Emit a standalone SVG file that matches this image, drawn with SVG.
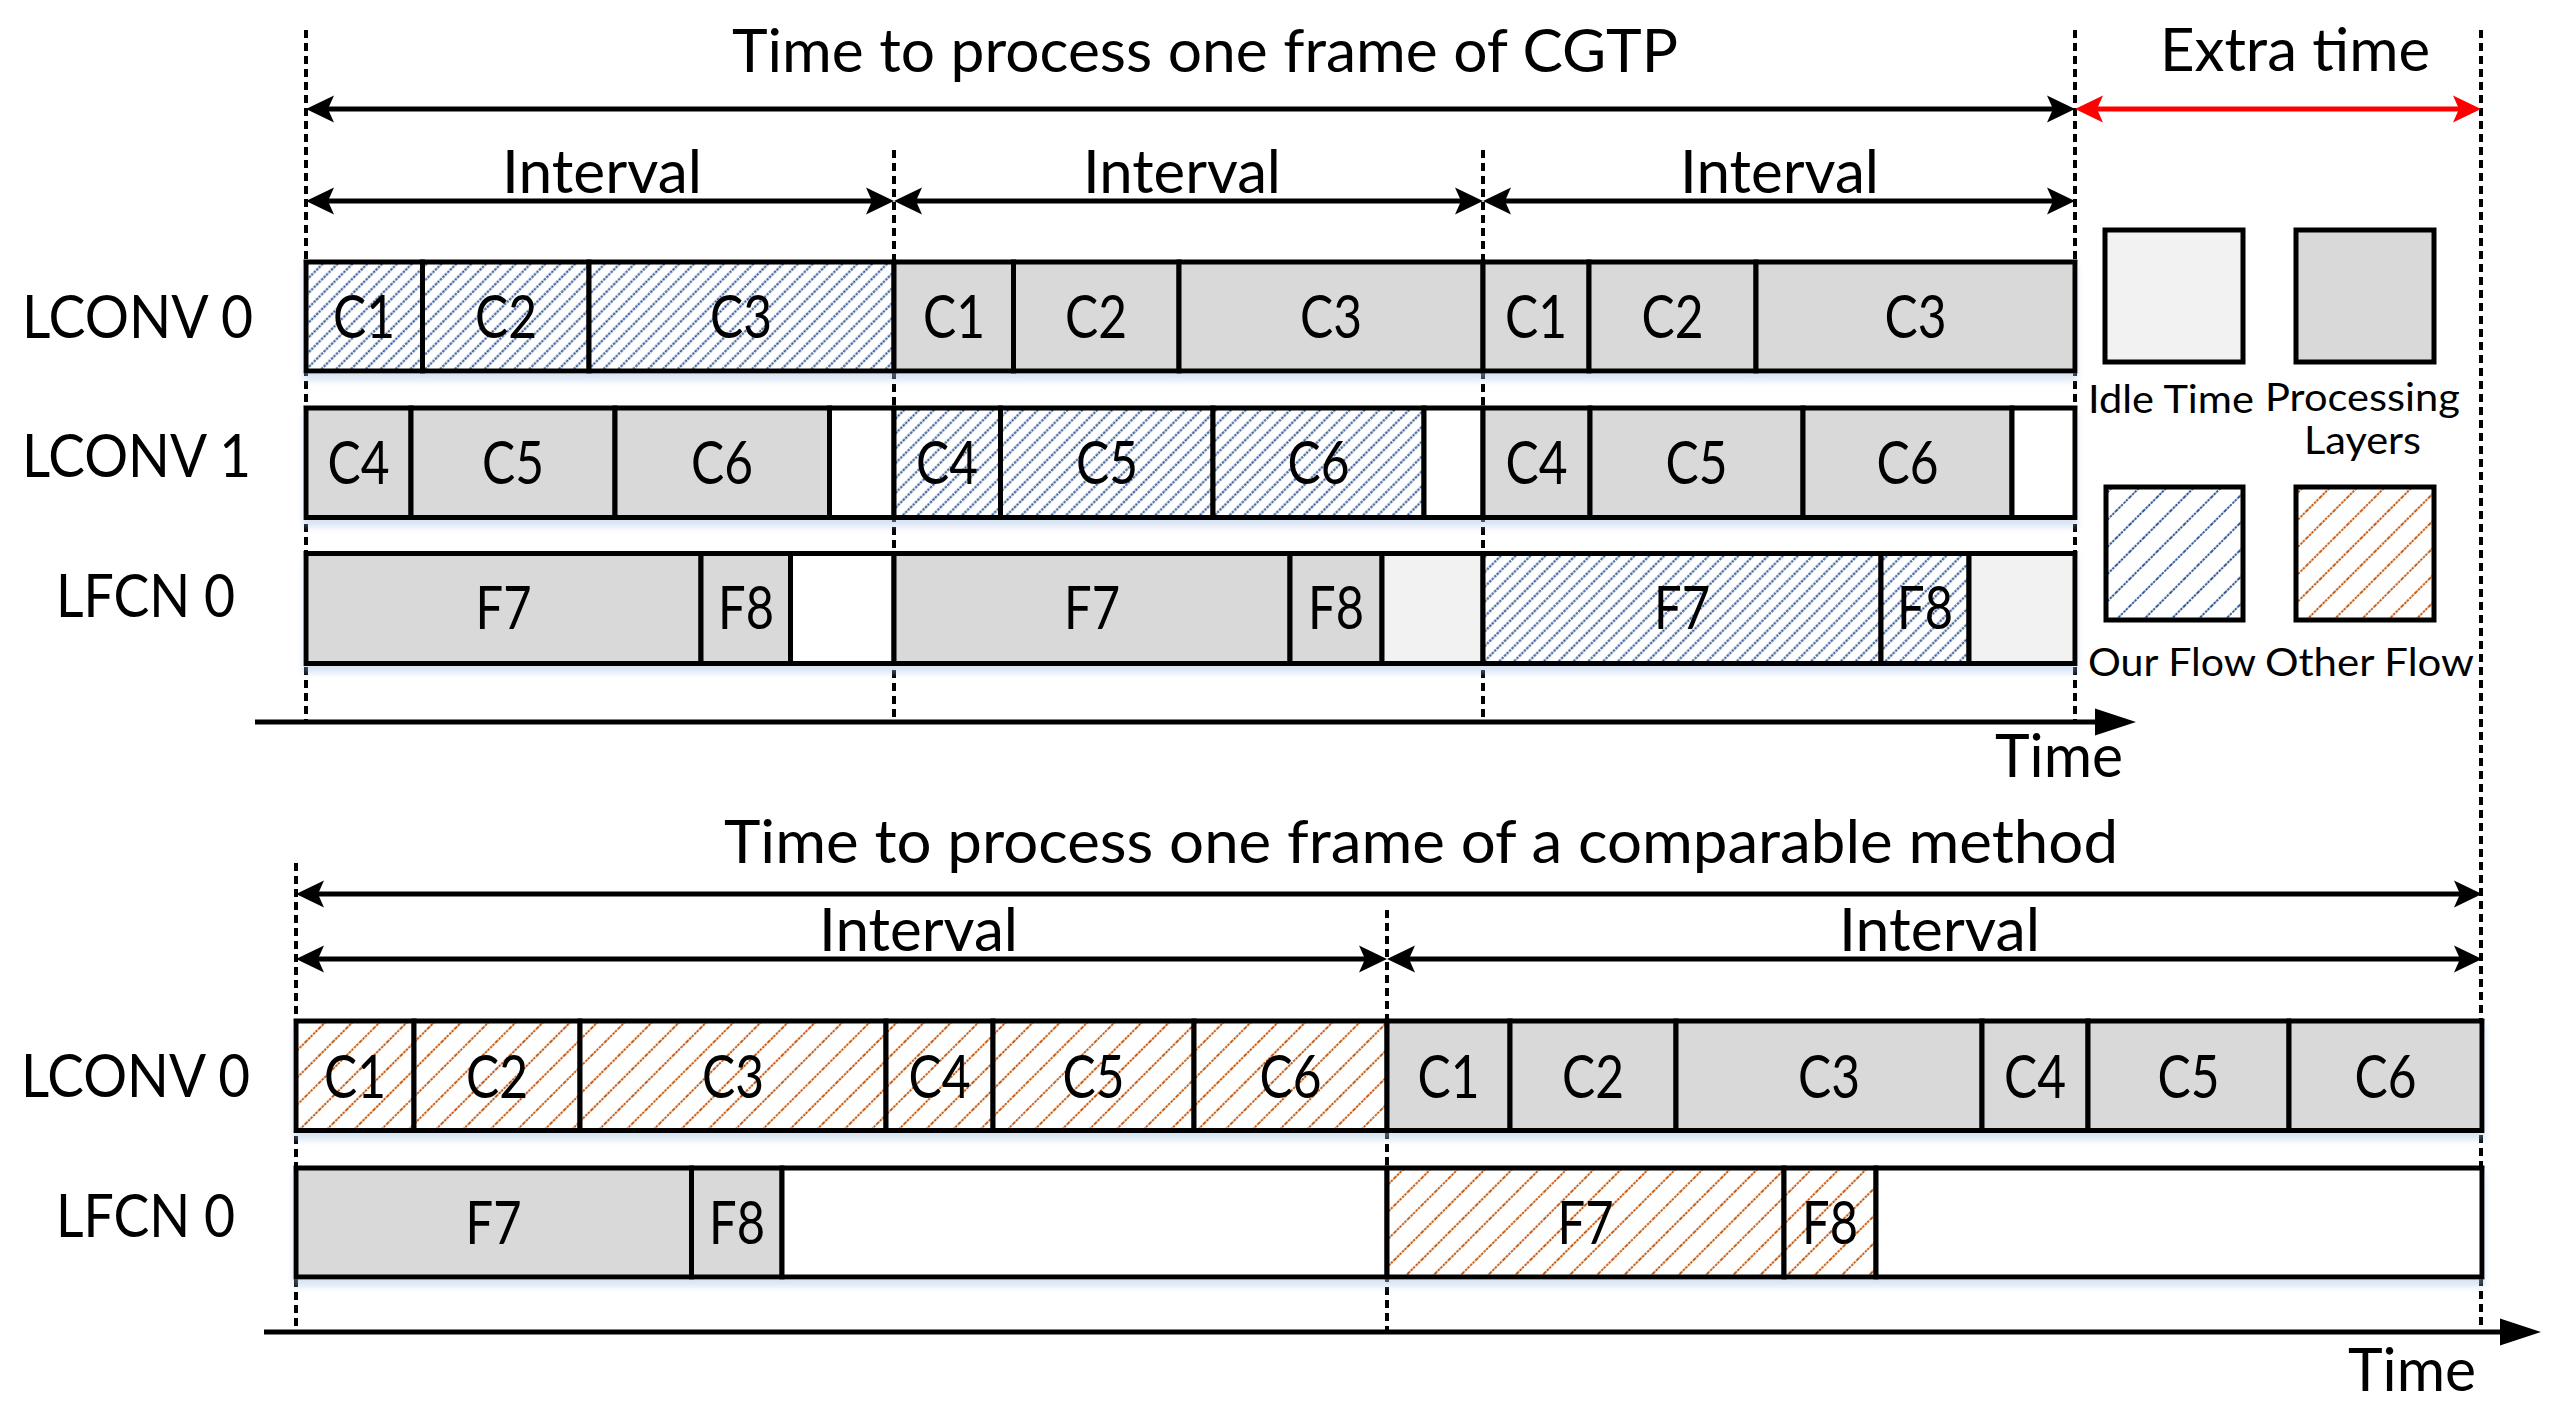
<svg xmlns="http://www.w3.org/2000/svg" width="2564" height="1414" viewBox="0 0 2564 1414">
<defs>
<style>
.t{font-family:Lato,"Open Sans","Liberation Sans",sans-serif;font-size:60px;fill:#000}
.c{text-anchor:middle}
.lg{font-size:39px}
.cell{stroke:#000;stroke-width:5}
.g{fill:#d9d9d9}.i{fill:#f2f2f2}.w{fill:#fff}.b{fill:url(#hb)}.o{fill:url(#ho)}.bl{fill:url(#hbl)}.ol{fill:url(#hol)}
.dash{stroke:#000;stroke-width:4;stroke-dasharray:8 5;fill:none}
.arr{stroke:#000;stroke-width:5;fill:none;marker-start:url(#ah);marker-end:url(#ah)}
.rarr{stroke:#f00;stroke-width:5;fill:none;marker-start:url(#ahr);marker-end:url(#ahr)}
.axis{stroke:#000;stroke-width:5;fill:none;marker-end:url(#ax)}
</style>
<marker id="ah" markerUnits="userSpaceOnUse" viewBox="-35 -16 50 32" refX="0" refY="0" markerWidth="50" markerHeight="32" orient="auto-start-reverse" overflow="visible">
<path d="M8,0 L-20,-13.5 L-14,0 L-20,13.5 Z" fill="#000"/>
</marker>
<marker id="ahr" markerUnits="userSpaceOnUse" viewBox="-35 -16 50 32" refX="0" refY="0" markerWidth="50" markerHeight="32" orient="auto-start-reverse" overflow="visible">
<path d="M8,0 L-20,-13.5 L-14,0 L-20,13.5 Z" fill="#f00"/>
</marker>
<marker id="ax" markerUnits="userSpaceOnUse" viewBox="-35 -16 50 32" refX="0" refY="0" markerWidth="50" markerHeight="32" orient="auto" overflow="visible">
<path d="M10,0 L-31,-13.5 L-31,13.5 Z" fill="#000"/>
</marker>
<pattern id="hb" patternUnits="userSpaceOnUse" width="10.5" height="10.5" patternTransform="rotate(45)">
<rect width="10.5" height="10.5" fill="#fff"/><line x1="5.25" y1="0" x2="5.25" y2="10.5" stroke="#2f5597" stroke-width="2" stroke-dasharray="2.5 1"/>
</pattern>
<pattern id="hbl" patternUnits="userSpaceOnUse" width="19.25" height="19.25" patternTransform="rotate(45)">
<rect width="19.25" height="19.25" fill="#fff"/><line x1="9.6" y1="0" x2="9.6" y2="19.25" stroke="#2f5597" stroke-width="2" stroke-dasharray="2.5 1"/>
</pattern>
<pattern id="ho" patternUnits="userSpaceOnUse" width="19.25" height="19.25" patternTransform="rotate(45)">
<rect width="19.25" height="19.25" fill="#fff"/><line x1="9.6" y1="0" x2="9.6" y2="19.25" stroke="#c55a11" stroke-width="2" stroke-dasharray="2.5 1"/>
</pattern>
<pattern id="hol" patternUnits="userSpaceOnUse" width="19.25" height="19.25" patternTransform="rotate(45)">
<rect width="19.25" height="19.25" fill="#fff"/><line x1="9.6" y1="0" x2="9.6" y2="19.25" stroke="#c55a11" stroke-width="2" stroke-dasharray="2.5 1"/>
</pattern>
<filter id="sh" x="-2%" y="-20%" width="104%" height="150%">
<feGaussianBlur in="SourceAlpha" stdDeviation="3"/>
<feOffset dy="7" result="o"/>
<feFlood flood-color="#a9c3e6" flood-opacity="0.45"/>
<feComposite in2="o" operator="in"/>
<feMerge><feMergeNode/><feMergeNode in="SourceGraphic"/></feMerge>
</filter>
</defs>
<rect width="2564" height="1414" fill="#fff"/>

<g id="guides">
<line class="dash" x1="306" y1="30" x2="306" y2="720"/>
<line class="dash" x1="894" y1="150" x2="894" y2="720"/>
<line class="dash" x1="1483" y1="150" x2="1483" y2="720"/>
<line class="dash" x1="2075" y1="30" x2="2075" y2="720"/>
<line class="dash" x1="2481" y1="30" x2="2481" y2="1330"/>
<line class="dash" x1="296" y1="863" x2="296" y2="1330"/>
<line class="dash" x1="1387" y1="910" x2="1387" y2="1330"/>
</g>

<g id="labels">
<text class="t" x="732" y="72" textLength="946" lengthAdjust="spacingAndGlyphs">Time to process one frame of CGTP</text>
<text class="t" x="2160" y="71" textLength="270" lengthAdjust="spacingAndGlyphs">Extra time</text>
<text class="t" x="502" y="193" textLength="200" lengthAdjust="spacingAndGlyphs">Interval</text>
<text class="t" x="1083" y="193" textLength="198" lengthAdjust="spacingAndGlyphs">Interval</text>
<text class="t" x="1680" y="193" textLength="199" lengthAdjust="spacingAndGlyphs">Interval</text>
<text class="t" x="22" y="338" textLength="231" lengthAdjust="spacingAndGlyphs">LCONV 0</text>
<text class="t" x="22" y="477" textLength="229" lengthAdjust="spacingAndGlyphs">LCONV 1</text>
<text class="t" x="56" y="617" textLength="179" lengthAdjust="spacingAndGlyphs">LFCN 0</text>
<text class="t" x="1995" y="777" textLength="128" lengthAdjust="spacingAndGlyphs">Time</text>
<text class="t" x="724" y="863" textLength="1394" lengthAdjust="spacingAndGlyphs">Time to process one frame of a comparable method</text>
<text class="t" x="819" y="951" textLength="199" lengthAdjust="spacingAndGlyphs">Interval</text>
<text class="t" x="1839" y="951" textLength="201" lengthAdjust="spacingAndGlyphs">Interval</text>
<text class="t" x="21" y="1097" textLength="229" lengthAdjust="spacingAndGlyphs">LCONV 0</text>
<text class="t" x="56" y="1237" textLength="179" lengthAdjust="spacingAndGlyphs">LFCN 0</text>
<text class="t" x="2348" y="1391" textLength="128" lengthAdjust="spacingAndGlyphs">Time</text>
</g>

<g id="connectors">
<line class="arr" x1="314" y1="109" x2="2067" y2="109"/>
<line class="rarr" x1="2083" y1="109" x2="2473" y2="109"/>
<line class="arr" x1="314" y1="201" x2="886" y2="201"/>
<line class="arr" x1="902" y1="201" x2="1475" y2="201"/>
<line class="arr" x1="1491" y1="201" x2="2067" y2="201"/>
<line class="axis" x1="255" y1="722" x2="2126" y2="722"/>
<line class="arr" x1="304" y1="894" x2="2474" y2="894"/>
<line class="arr" x1="304" y1="959" x2="1379" y2="959"/>
<line class="arr" x1="1395" y1="959" x2="2474" y2="959"/>
<line class="axis" x1="264" y1="1332" x2="2531" y2="1332"/>
</g>

<g id="row-top-lconv0" filter="url(#sh)">
<g id="t0-c1a"><rect class="cell b" x="306" y="262" width="116.5" height="109"/><text class="t c" x="364" y="338" textLength="62" lengthAdjust="spacingAndGlyphs">C1</text></g>
<g id="t0-c2a"><rect class="cell b" x="422.5" y="262" width="166.5" height="109"/><text class="t c" x="506" y="338" textLength="62" lengthAdjust="spacingAndGlyphs">C2</text></g>
<g id="t0-c3a"><rect class="cell b" x="589" y="262" width="305" height="109"/><text class="t c" x="741" y="338" textLength="62" lengthAdjust="spacingAndGlyphs">C3</text></g>
<g id="t0-c1b"><rect class="cell g" x="894" y="262" width="119.5" height="109"/><text class="t c" x="954" y="338" textLength="62" lengthAdjust="spacingAndGlyphs">C1</text></g>
<g id="t0-c2b"><rect class="cell g" x="1013.5" y="262" width="165.5" height="109"/><text class="t c" x="1096" y="338" textLength="62" lengthAdjust="spacingAndGlyphs">C2</text></g>
<g id="t0-c3b"><rect class="cell g" x="1179" y="262" width="304" height="109"/><text class="t c" x="1331" y="338" textLength="62" lengthAdjust="spacingAndGlyphs">C3</text></g>
<g id="t0-c1c"><rect class="cell g" x="1483" y="262" width="106" height="109"/><text class="t c" x="1536" y="338" textLength="62" lengthAdjust="spacingAndGlyphs">C1</text></g>
<g id="t0-c2c"><rect class="cell g" x="1589" y="262" width="167" height="109"/><text class="t c" x="1672.5" y="338" textLength="62" lengthAdjust="spacingAndGlyphs">C2</text></g>
<g id="t0-c3c"><rect class="cell g" x="1756" y="262" width="319" height="109"/><text class="t c" x="1915.5" y="338" textLength="62" lengthAdjust="spacingAndGlyphs">C3</text></g>
</g>

<g id="row-top-lconv1" filter="url(#sh)">
<g id="t1-c4a"><rect class="cell g" x="306" y="408" width="105" height="109.5"/><text class="t c" x="358.5" y="484" textLength="62" lengthAdjust="spacingAndGlyphs">C4</text></g>
<g id="t1-c5a"><rect class="cell g" x="411" y="408" width="204" height="109.5"/><text class="t c" x="513" y="484" textLength="62" lengthAdjust="spacingAndGlyphs">C5</text></g>
<g id="t1-c6a"><rect class="cell g" x="615" y="408" width="214.5" height="109.5"/><text class="t c" x="722" y="484" textLength="62" lengthAdjust="spacingAndGlyphs">C6</text></g>
<g id="t1-ea"><rect class="cell w" x="829.5" y="408" width="64.5" height="109.5"/></g>
<g id="t1-c4b"><rect class="cell b" x="894" y="408" width="106.5" height="109.5"/><text class="t c" x="947" y="484" textLength="62" lengthAdjust="spacingAndGlyphs">C4</text></g>
<g id="t1-c5b"><rect class="cell b" x="1000.5" y="408" width="212.5" height="109.5"/><text class="t c" x="1107" y="484" textLength="62" lengthAdjust="spacingAndGlyphs">C5</text></g>
<g id="t1-c6b"><rect class="cell b" x="1213" y="408" width="211" height="109.5"/><text class="t c" x="1318.5" y="484" textLength="62" lengthAdjust="spacingAndGlyphs">C6</text></g>
<g id="t1-eb"><rect class="cell w" x="1424" y="408" width="59" height="109.5"/></g>
<g id="t1-c4c"><rect class="cell g" x="1483" y="408" width="107" height="109.5"/><text class="t c" x="1536.5" y="484" textLength="62" lengthAdjust="spacingAndGlyphs">C4</text></g>
<g id="t1-c5c"><rect class="cell g" x="1590" y="408" width="213" height="109.5"/><text class="t c" x="1696.5" y="484" textLength="62" lengthAdjust="spacingAndGlyphs">C5</text></g>
<g id="t1-c6c"><rect class="cell g" x="1803" y="408" width="209" height="109.5"/><text class="t c" x="1907.5" y="484" textLength="62" lengthAdjust="spacingAndGlyphs">C6</text></g>
<g id="t1-ec"><rect class="cell w" x="2012" y="408" width="63" height="109.5"/></g>
</g>

<g id="row-top-lfcn0" filter="url(#sh)">
<g id="t2-f7a"><rect class="cell g" x="306" y="553.5" width="395" height="110"/><text class="t c" x="503.5" y="629" textLength="56" lengthAdjust="spacingAndGlyphs">F7</text></g>
<g id="t2-f8a"><rect class="cell g" x="701" y="553.5" width="89.5" height="110"/><text class="t c" x="746" y="629" textLength="56" lengthAdjust="spacingAndGlyphs">F8</text></g>
<g id="t2-ea"><rect class="cell w" x="790.5" y="553.5" width="103.5" height="110"/></g>
<g id="t2-f7b"><rect class="cell g" x="894" y="553.5" width="396" height="110"/><text class="t c" x="1092" y="629" textLength="56" lengthAdjust="spacingAndGlyphs">F7</text></g>
<g id="t2-f8b"><rect class="cell g" x="1290" y="553.5" width="92" height="110"/><text class="t c" x="1336" y="629" textLength="56" lengthAdjust="spacingAndGlyphs">F8</text></g>
<g id="t2-ib"><rect class="cell i" x="1382" y="553.5" width="101" height="110"/></g>
<g id="t2-f7c"><rect class="cell b" x="1483" y="553.5" width="398" height="110"/><text class="t c" x="1682" y="629" textLength="56" lengthAdjust="spacingAndGlyphs">F7</text></g>
<g id="t2-f8c"><rect class="cell b" x="1881" y="553.5" width="88" height="110"/><text class="t c" x="1925" y="629" textLength="56" lengthAdjust="spacingAndGlyphs">F8</text></g>
<g id="t2-ic"><rect class="cell i" x="1969" y="553.5" width="106" height="110"/></g>
</g>

<g id="legend">
<g id="lg-idle"><rect class="cell i" x="2105" y="230" width="138" height="132"/><text class="t lg" x="2088" y="413" textLength="166" lengthAdjust="spacingAndGlyphs">Idle Time</text></g>
<g id="lg-proc"><rect class="cell g" x="2296" y="230" width="138" height="132"/><text class="t lg" x="2265" y="411" textLength="195" lengthAdjust="spacingAndGlyphs">Processing</text><text class="t lg" x="2304" y="454" textLength="117" lengthAdjust="spacingAndGlyphs">Layers</text></g>
<g id="lg-our"><rect class="cell bl" x="2106" y="487" width="137" height="133"/><text class="t lg" x="2088" y="676" textLength="168" lengthAdjust="spacingAndGlyphs">Our Flow</text></g>
<g id="lg-other"><rect class="cell ol" x="2296" y="487" width="138" height="133"/><text class="t lg" x="2265" y="676" textLength="209" lengthAdjust="spacingAndGlyphs">Other Flow</text></g>
</g>

<g id="row-bot-lconv0" filter="url(#sh)">
<g id="b0-c1a"><rect class="cell o" x="296" y="1021" width="118" height="109.5"/><text class="t c" x="355" y="1098" textLength="62" lengthAdjust="spacingAndGlyphs">C1</text></g>
<g id="b0-c2a"><rect class="cell o" x="414" y="1021" width="166" height="109.5"/><text class="t c" x="497" y="1098" textLength="62" lengthAdjust="spacingAndGlyphs">C2</text></g>
<g id="b0-c3a"><rect class="cell o" x="580" y="1021" width="306" height="109.5"/><text class="t c" x="733" y="1098" textLength="62" lengthAdjust="spacingAndGlyphs">C3</text></g>
<g id="b0-c4a"><rect class="cell o" x="886" y="1021" width="107" height="109.5"/><text class="t c" x="939.5" y="1098" textLength="62" lengthAdjust="spacingAndGlyphs">C4</text></g>
<g id="b0-c5a"><rect class="cell o" x="993" y="1021" width="201" height="109.5"/><text class="t c" x="1093.5" y="1098" textLength="62" lengthAdjust="spacingAndGlyphs">C5</text></g>
<g id="b0-c6a"><rect class="cell o" x="1194" y="1021" width="193" height="109.5"/><text class="t c" x="1290.5" y="1098" textLength="62" lengthAdjust="spacingAndGlyphs">C6</text></g>
<g id="b0-c1b"><rect class="cell g" x="1387" y="1021" width="123" height="109.5"/><text class="t c" x="1448.5" y="1098" textLength="62" lengthAdjust="spacingAndGlyphs">C1</text></g>
<g id="b0-c2b"><rect class="cell g" x="1510" y="1021" width="166" height="109.5"/><text class="t c" x="1593" y="1098" textLength="62" lengthAdjust="spacingAndGlyphs">C2</text></g>
<g id="b0-c3b"><rect class="cell g" x="1676" y="1021" width="306" height="109.5"/><text class="t c" x="1829" y="1098" textLength="62" lengthAdjust="spacingAndGlyphs">C3</text></g>
<g id="b0-c4b"><rect class="cell g" x="1982" y="1021" width="106" height="109.5"/><text class="t c" x="2035" y="1098" textLength="62" lengthAdjust="spacingAndGlyphs">C4</text></g>
<g id="b0-c5b"><rect class="cell g" x="2088" y="1021" width="201" height="109.5"/><text class="t c" x="2188.5" y="1098" textLength="62" lengthAdjust="spacingAndGlyphs">C5</text></g>
<g id="b0-c6b"><rect class="cell g" x="2289" y="1021" width="193" height="109.5"/><text class="t c" x="2385.5" y="1098" textLength="62" lengthAdjust="spacingAndGlyphs">C6</text></g>
</g>

<g id="row-bot-lfcn0" filter="url(#sh)">
<g id="b1-f7a"><rect class="cell g" x="296" y="1168" width="395.5" height="109"/><text class="t c" x="493.5" y="1244" textLength="56" lengthAdjust="spacingAndGlyphs">F7</text></g>
<g id="b1-f8a"><rect class="cell g" x="691.5" y="1168" width="90.5" height="109"/><text class="t c" x="737" y="1244" textLength="56" lengthAdjust="spacingAndGlyphs">F8</text></g>
<g id="b1-ea"><rect class="cell w" x="782" y="1168" width="605" height="109"/></g>
<g id="b1-f7b"><rect class="cell o" x="1387" y="1168" width="397" height="109"/><text class="t c" x="1585.5" y="1244" textLength="56" lengthAdjust="spacingAndGlyphs">F7</text></g>
<g id="b1-f8b"><rect class="cell o" x="1784" y="1168" width="92" height="109"/><text class="t c" x="1830" y="1244" textLength="56" lengthAdjust="spacingAndGlyphs">F8</text></g>
<g id="b1-eb"><rect class="cell w" x="1876" y="1168" width="606" height="109"/></g>
</g>
</svg>
